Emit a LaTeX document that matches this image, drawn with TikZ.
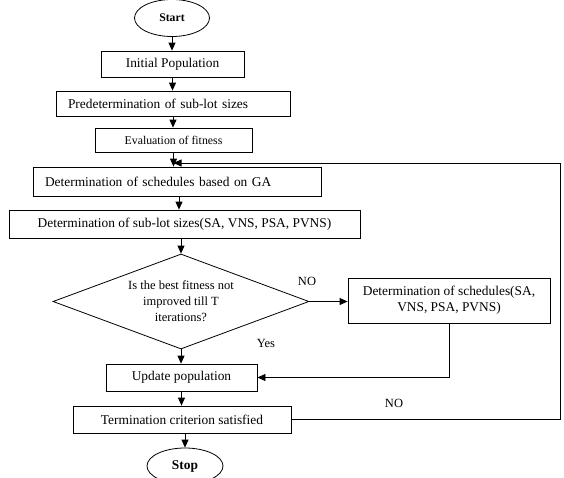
\documentclass[tikz,border=0pt]{standalone}
\usepackage{fontspec}
\setmainfont{Liberation Serif}
\usetikzlibrary{arrows.meta,positioning,shapes}

\begin{document}
\begin{tikzpicture}[
    x=1pt, y=1pt,
    process/.style={draw, line width=0.8pt, minimum height=26pt, inner sep=0pt, align=center, font=\fontsize{13.4}{16}\selectfont},
    leftproc/.style={process, text width=#1, align=left, inner xsep=12pt},
    decision/.style={draw, diamond, aspect=2.7, line width=0.8pt, minimum width=256pt, minimum height=95pt, inner sep=0pt, align=center, font=\fontsize{12.5}{16}\selectfont},
    terminal/.style={draw, ellipse, line width=0.8pt, minimum width=75pt, minimum height=37pt, inner sep=0pt},
    arrow/.style={-{Triangle[length=8pt,width=7pt]}, line width=0.8pt},
    answer/.style={font=\fontsize{12.5}{15}\selectfont}
  ]
  \useasboundingbox (0,0) rectangle (564,-477);

  % Main flow
  \node[terminal, font=\fontsize{11.7}{14}\selectfont\bfseries] (start) at (172,-18) {Start};
  \node[process, minimum width=143pt] (init) at (172.5,-64) {Initial Population};
  \node[leftproc=210pt, minimum height=25pt] (predet) at (173,-103.5) {Predetermination of sub-lot sizes};
  \node[process, minimum width=157pt, minimum height=24pt, font=\fontsize{11.8}{14}\selectfont] (evalfit) at (173.5,-140) {Evaluation of fitness};
  \node[leftproc=264pt, minimum height=29pt] (schedga) at (177,-181.5) {Determination of schedules based on GA};
  \node[process, minimum width=351pt, minimum height=28pt] (sublot) at (184.5,-224) {Determination of sub-lot sizes(SA, VNS, PSA, PVNS)};
  \node[decision] (check) at (181,-301.5) {Is the best fitness not\\improved till T\\iterations?};
  \node[process, minimum width=202pt, minimum height=45pt] (sched) at (449,-300.5) {Determination of schedules(SA,\\VNS, PSA, PVNS)};
  \node[process, minimum width=151pt, minimum height=27pt] (update) at (181.5,-377.5) {Update population};
  \node[process, minimum width=218pt, minimum height=27pt] (term) at (182,-419.5) {Termination criterion satisfied};
  \node[terminal, minimum width=76pt, minimum height=36pt, font=\fontsize{13.4}{16}\selectfont\bfseries] (stop) at (185,-466) {Stop};

  % Branch labels
  \node[answer] (no1) at (307,-281) {NO};
  \node[answer] (yes) at (266,-343) {Yes};
  \node[answer] (no2) at (394,-403) {NO};

  % Arrows
  \draw[arrow] (start) -- (start |- init.north);
  \draw[arrow] (init) -- (init |- predet.north);
  \draw[arrow] (predet) -- (predet |- evalfit.north);
  \draw[arrow] (evalfit) -- (evalfit |- schedga.north);
  \draw[arrow] (schedga.south -| 179,0) -- (sublot.north -| 179,0);
  \draw[arrow] (sublot.south -| check) -- (check.north);
  \draw[arrow] (check.east) -- (check.east -| sched.west);
  \draw[arrow] (check.south) -- (check.south |- update.north);
  \draw[arrow] (sched.south) |- (update.east);
  \draw[arrow] (update) -- (update |- term.north);
  \draw[arrow] (term.south -| stop) -- (stop.north);

  % Loop back
  \coordinate (loopcorner) at (560,-163);
  \draw[arrow] (term.east) -| (loopcorner) -- (loopcorner -| evalfit.south);

\end{tikzpicture}
\end{document}
